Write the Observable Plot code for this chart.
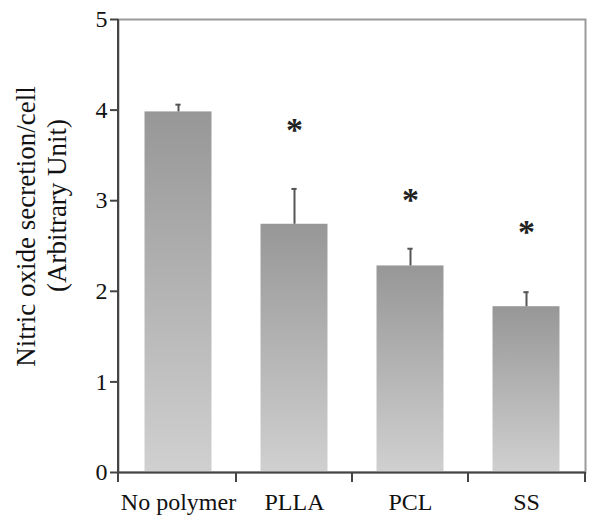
<!DOCTYPE html>
<html><head><meta charset="utf-8">
<script src="https://cdn.jsdelivr.net/npm/d3@7"></script>
<script src="https://cdn.jsdelivr.net/npm/@observablehq/plot@0.6"></script>
<style>body{margin:0;background:#fff} svg{display:block}</style>
</head><body><div id="chart"></div>
<script>
const categories = ["No polymer", "PLLA", "PCL", "SS"];
const values = [3.98, 2.74, 2.28, 1.83];
const errors = [0.08, 0.39, 0.19, 0.16];
const significant = [false, true, true, true];
const starLevels = [null, 3.78, 3.01, 2.65];
const yTicks = [0, 1, 2, 3, 4, 5];
const yLabelLines = ["Nitric oxide secretion/cell", "(Arbitrary Unit)"];

const data = categories.map((c, i) => ({category: c, value: values[i], upper: values[i] + errors[i], star: starLevels[i]}));
const stars = data.filter((d, i) => significant[i]);

const W = 600, H = 526, mL = 118, mR = 15, mT = 19, mB = 54;
const band = (W - mL - mR) / categories.length;
const barInset = band * 0.21;
const capInset = band / 2 - 3;

const plot = Plot.plot({
  width: W, height: H, marginLeft: mL, marginRight: mR, marginTop: mT, marginBottom: mB,
  style: {fontFamily: "'Liberation Serif', 'Times New Roman', serif", fontSize: "24px", background: "#fff", color: "#111"},
  x: {domain: categories, padding: 0, label: null},
  y: {domain: [0, 5], label: null},
  marks: [
    Plot.frame({stroke: "#9a9a9a", strokeWidth: 2}),
    Plot.barY(data, {x: "category", y: "value", fill: "url(#barGrad)", insetLeft: barInset, insetRight: barInset}),
    Plot.ruleX(data, {x: "category", y1: "value", y2: "upper", stroke: "#555", strokeWidth: 2}),
    Plot.tickY(data, {x: "category", y: "upper", stroke: "#555", strokeWidth: 2, insetLeft: capInset, insetRight: capInset}),
    Plot.text(stars, {x: "category", y: "star", text: () => "*", fontSize: 34, fontWeight: "bold", fill: "#222"}),
    Plot.ruleY([0], {stroke: "#444", strokeWidth: 2}),
    Plot.axisY({ticks: yTicks, tickSize: 8, tickPadding: 3, tickFormat: d => d, stroke: "#444", strokeWidth: 2}),
    Plot.axisX({tickSize: 0, tickPadding: 20}),
    Plot.text([yLabelLines[0]], {frameAnchor: "left", textAnchor: "middle", rotate: -90, dx: -92, dy: -19.5, fontSize: 27}),
    Plot.text([yLabelLines[1]], {frameAnchor: "left", textAnchor: "middle", rotate: -90, dx: -61, dy: -40.5, fontSize: 27})
  ]
});

const svg = d3.select(plot);
const defs = svg.insert("defs", ":first-child");
const grad = defs.append("linearGradient").attr("id", "barGrad").attr("x1", 0).attr("y1", 0).attr("x2", 0).attr("y2", 1);
grad.append("stop").attr("offset", "0%").attr("stop-color", "#979797");
grad.append("stop").attr("offset", "100%").attr("stop-color", "#d0d0d0");

const xs = plot.scale("x"), ys = plot.scale("y");
const y0 = ys.apply(0), yTop = ys.apply(5);
const g = svg.append("g").attr("stroke", "#444").attr("stroke-width", 2);
g.append("line").attr("x1", xs.range[0]).attr("x2", xs.range[0]).attr("y1", yTop).attr("y2", y0 + 10);
categories.slice(1).forEach(c => {
  const bx = xs.apply(c);
  g.append("line").attr("x1", bx).attr("x2", bx).attr("y1", y0).attr("y2", y0 + 10);
});
g.append("line").attr("x1", xs.range[1]).attr("x2", xs.range[1]).attr("y1", y0).attr("y2", y0 + 10);

document.getElementById("chart").appendChild(plot);
</script>
</body></html>
